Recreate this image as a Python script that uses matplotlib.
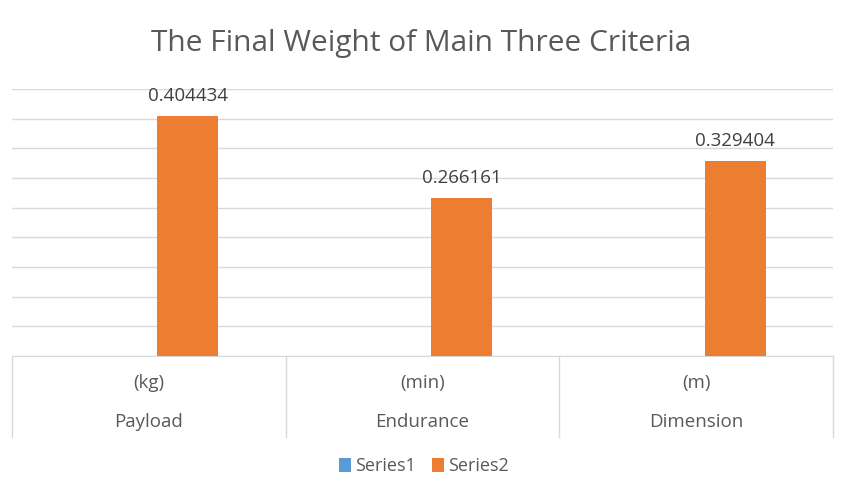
import matplotlib.pyplot as plt
import numpy as np

plt.rcParams['font.family'] = ['Open Sans', 'DejaVu Sans']

criteria = ['Payload', 'Endurance', 'Dimension']
units = ['(kg)', '(min)', '(m)']
series1 = [0, 0, 0]
series2 = [0.404434, 0.266161, 0.329404]

grid_col = '#d9d9d9'
text_col = '#595959'

fig = plt.figure(figsize=(8.43, 4.93), dpi=100)
ax = fig.add_axes([12/843, (493-355.7)/493, (833-12)/843, 266.4/493])

x = np.arange(len(criteria))
width = 0.223
offset = 0.142
ax.bar(x - offset, series1, width, color='#5b9bd5', label='Series1')
bars = ax.bar(x + offset, series2, width, color='#ed7d31', label='Series2', zorder=3)

for b, v in zip(bars, series2):
    ax.annotate(f'{v:.6f}', (b.get_x() + b.get_width()/2, v), xytext=(0, 8),
                textcoords='offset points', ha='center', va='bottom',
                fontsize=13.5, color='#404040')

ax.set_xlim(-0.5, len(criteria) - 0.5)
ax.set_ylim(0, 0.45)
ax.set_yticks(np.arange(0, 0.451, 0.05))
ax.yaxis.grid(True, color=grid_col, linewidth=1)
ax.set_axisbelow(True)
ax.tick_params(left=False, bottom=False, labelleft=False, labelbottom=False)
for s in ['top', 'left', 'right']:
    ax.spines[s].set_visible(False)
ax.spines['bottom'].set_color(grid_col)

# two-level category axis
for xb in np.arange(-0.5, len(criteria), 1.0):
    ax.plot([xb, xb], [0, -0.305], transform=ax.get_xaxis_transform(),
            color=grid_col, linewidth=1, clip_on=False)
for i in range(len(criteria)):
    ax.text(i, -0.1025, units[i], transform=ax.get_xaxis_transform(),
            ha='center', va='center', fontsize=13.5, color=text_col)
    ax.text(i, -0.249, criteria[i], transform=ax.get_xaxis_transform(),
            ha='center', va='center', fontsize=13.5, color=text_col)

fig.text(0.5, 1 - 44/493, 'The Final Weight of Main Three Criteria',
         ha='center', va='center', fontsize=21.5, color=text_col)

fig.legend(loc='center', bbox_to_anchor=(424/843, 1 - 466/493), ncol=2,
           frameon=False, fontsize=13, handlelength=0.65, handleheight=0.85,
           handletextpad=0.25, columnspacing=0.9, labelcolor=text_col)

fig.savefig('out.png', dpi=100)
